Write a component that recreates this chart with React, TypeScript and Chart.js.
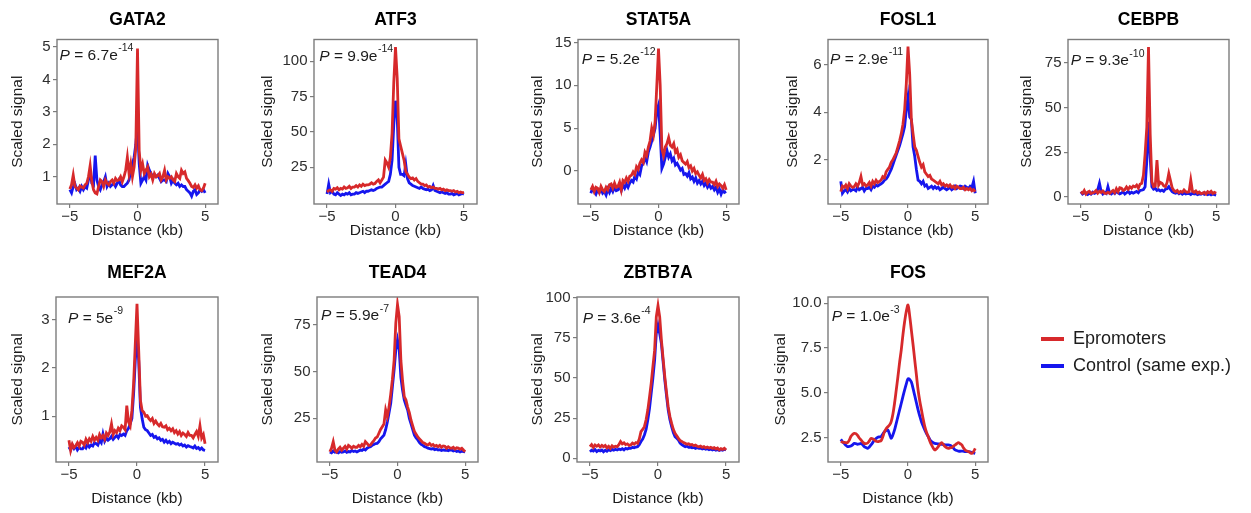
import React, { useEffect, useRef } from 'react';
import { Chart, registerables } from 'chart.js';

Chart.register(...registerables);

// ---------------- data ----------------
const DISTANCE_KB = [
  -5, -4.875, -4.75, -4.625, -4.5, -4.375, -4.25, -4.125,
  -4, -3.875, -3.75, -3.625, -3.5, -3.375, -3.25, -3.125,
  -3, -2.875, -2.75, -2.625, -2.5, -2.375, -2.25, -2.125,
  -2, -1.875, -1.75, -1.625, -1.5, -1.375, -1.25, -1.125,
  -1, -0.875, -0.75, -0.625, -0.5, -0.375, -0.25, -0.125,
  0, 0.125, 0.25, 0.375, 0.5, 0.625, 0.75, 0.875,
  1, 1.125, 1.25, 1.375, 1.5, 1.625, 1.75, 1.875,
  2, 2.125, 2.25, 2.375, 2.5, 2.625, 2.75, 2.875,
  3, 3.125, 3.25, 3.375, 3.5, 3.625, 3.75, 3.875,
  4, 4.125, 4.25, 4.375, 4.5, 4.625, 4.75, 4.875,
  5,
];
const X_TICKS = [-5, 0, 5];
const SERIES_NAMES = ['Epromoters', 'Control (same exp.)'];
const TF_NAMES = ['GATA2', 'ATF3', 'STAT5A', 'FOSL1', 'CEBPB', 'MEF2A', 'TEAD4', 'ZBTB7A', 'FOS'];
const P_MANTISSA = ['6.7', '9.9', '5.2', '2.9', '9.3', '5', '5.9', '3.6', '1.0'];
const P_EXPONENT = ['-14', '-14', '-12', '-11', '-10', '-9', '-7', '-4', '-3'];

const GATA2_EPROMOTERS = [
  0.62, 0.75, 1.05, 0.7, 0.65, 0.6, 0.72, 0.68,
  0.65, 0.75, 0.8, 1.0, 1.34, 0.85, 0.6, 0.5,
  0.47, 0.7, 0.9, 0.85, 0.7, 0.9, 0.8, 0.75,
  0.85, 0.9, 0.8, 0.95, 0.88, 0.9, 1.0, 0.85,
  1.0, 1.2, 1.6, 1.1, 1.4, 1.0, 1.3, 1.9,
  4.95, 1.8, 1.2, 1.4, 1.1, 1.2, 1.3, 1.0,
  1.08, 0.9, 1.1, 1.0, 1.03, 1.1, 0.9, 1.0,
  1.2, 0.9, 1.0, 0.95, 1.0, 0.9, 0.85, 1.1,
  1.0, 0.95, 1.2, 1.1, 1.15, 0.95, 0.88, 0.8,
  0.7, 0.67, 0.75, 0.65, 0.72, 0.6, 0.57, 0.65,
  0.8,
];
const GATA2_CONTROL = [
  0.6, 0.5, 0.7, 0.78, 0.6, 0.65, 0.55, 0.7,
  0.6, 0.7, 0.65, 0.9, 1.15, 0.8, 0.75, 1.65,
  0.9, 0.7, 0.6, 0.75, 0.85, 1.0, 0.7, 0.8,
  0.7, 0.75, 0.8, 0.7, 0.8, 0.9, 0.75, 0.7,
  0.7, 0.75, 0.8, 0.9, 1.2, 1.4, 1.6, 2.0,
  2.6, 1.4, 0.8, 0.9, 1.0, 0.9, 1.35, 1.2,
  1.1, 1.0, 1.05, 1.0, 1.05, 0.95, 0.85, 0.9,
  0.9, 0.85, 1.1, 1.0, 0.8, 0.9, 0.8, 0.75,
  0.8, 0.7, 0.75, 0.7, 0.7, 0.6, 0.55, 0.5,
  0.4, 0.55, 0.6, 0.45, 0.5, 0.6, 0.55, 0.6,
  0.5,
];
const ATF3_EPROMOTERS = [
  7.5, 8.5, 9, 8, 10, 9.5, 10.5, 9,
  10, 9.5, 11, 10, 10.5, 11.5, 10, 11,
  11, 12, 11, 12.5, 11.5, 13, 12, 12.5,
  12.5, 13, 14, 13, 13.5, 15, 16, 14,
  16, 18, 30, 28, 25, 32, 49, 85,
  110, 88, 45, 40, 35, 30, 22, 20,
  18, 17, 17.5, 16, 17, 15, 14, 13,
  13, 12, 12.5, 11, 11.5, 10.5, 11, 10,
  10, 9.5, 10, 9, 9.5, 8.5, 9, 8.5,
  8.5, 8, 8.5, 7.5, 8, 7, 7.5, 7,
  7,
];
const ATF3_CONTROL = [
  6, 13, 7, 8, 6, 5.5, 7, 6,
  5, 6, 5.5, 6.5, 6, 7, 5.5, 6,
  6, 7, 6.5, 7, 7.5, 8, 7, 8,
  8, 8.5, 9, 8.5, 9, 10, 10.5, 11,
  11, 12, 13, 14, 15, 20, 30, 55,
  72, 60, 25, 20, 20, 19, 27, 17,
  14, 13, 12, 11.5, 11, 10.5, 10, 11,
  10, 9.5, 9, 9.5, 8.5, 9, 12, 8.5,
  8, 7.5, 7, 7.5, 7, 6.5, 7, 6,
  6, 6.5, 5.5, 6, 6.5, 5.5, 6, 6.5,
  6,
];
const STAT5A_EPROMOTERS = [
  -2.2, -1.8, -2.4, -1.9, -2.0, -2.5, -1.8, -2.2,
  -2.4, -1.9, -2.2, -1.6, -1.5, -2.0, -1.4, -1.9,
  -1.8, -1.3, -2.2, -1.1, -1.3, -0.8, -1.2, -0.6,
  -0.5, -0.1, -0.4, 0.5, 0.2, 0.9, 1.3, 1.0,
  2.2, 1.8, 2.8, 3.5, 5.0, 4.2, 5.8, 10.0,
  14.3, 10.0, 2.6, 1.8, 2.8, 3.2, 3.9, 3.0,
  2.8, 3.2, 2.2, 2.5, 1.6, 1.9, 1.2, 1.0,
  0.8, 1.1, 0.4, 0.6, 0.0, 0.3, -0.3, -0.1,
  -0.5, -0.8, -0.4, -1.1, -0.9, -1.4, -1.0, -1.3,
  -1.3, -1.6, -1.2, -1.8, -1.5, -1.7, -2.0, -1.6,
  -2.2,
];
const STAT5A_CONTROL = [
  -2.6, -2.0, -2.4, -2.7, -2.2, -2.5, -2.1, -2.6,
  -2.4, -2.8, -2.1, -2.5, -2.0, -2.4, -1.9, -2.3,
  -2.2, -1.8, -2.3, -1.6, -2.0, -1.5, -1.9, -1.4,
  -1.1, -1.3, -0.6, -0.9, -0.1, -0.4, 0.6, 0.9,
  1.6, 1.1, 2.2, 2.8, 3.5, 4.2, 5.0, 7.0,
  7.7, 4.3, 0.3, 0.8, 1.6, 2.4, 1.6, 2.0,
  1.2, 1.5, 0.7, 0.9, 0.5, 0.1, 0.3, -0.4,
  -0.3, -0.6, -0.2, -0.9, -0.7, -1.2, -0.8, -1.4,
  -1.1, -1.5, -1.2, -1.7, -1.4, -1.9, -1.6, -2.0,
  -1.8, -2.2, -1.9, -2.5, -2.1, -2.7, -2.2, -2.5,
  -2.4,
];
const FOSL1_EPROMOTERS = [
  0.67, 0.9, 0.85, 0.95, 0.8, 1.0, 0.9, 0.85,
  0.88, 1.0, 0.9, 1.05, 1.3, 0.95, 1.0, 0.9,
  0.95, 1.05, 0.9, 1.1, 1.0, 1.15, 1.05, 1.1,
  1.15, 1.3, 1.25, 1.5, 1.6, 1.7, 1.9, 2.0,
  2.15, 2.3, 2.55, 2.8, 3.1, 3.5, 4.1, 5.2,
  6.75, 5.6, 3.7, 3.1, 2.55, 2.4, 2.15, 1.9,
  1.7, 1.8, 1.5, 1.4, 1.3, 1.35, 1.2, 1.15,
  1.1, 1.05, 1.0, 1.1, 0.95, 1.0, 0.9, 0.95,
  0.88, 0.95, 0.85, 0.9, 0.8, 0.9, 0.85, 0.8,
  0.8, 0.85, 0.75, 0.8, 0.75, 0.8, 0.7, 0.75,
  0.67,
];
const FOSL1_CONTROL = [
  1.1, 0.6, 0.7, 0.75, 0.65, 0.8, 0.7, 0.75,
  0.75, 0.7, 0.85, 0.75, 0.8, 0.85, 0.7, 0.8,
  0.8, 0.85, 0.75, 0.9, 0.85, 0.95, 0.9, 0.95,
  1.0, 1.05, 1.15, 1.2, 1.3, 1.45, 1.6, 1.8,
  2.0, 2.2, 2.4, 2.6, 2.85, 3.1, 3.4, 4.1,
  4.65, 3.8, 3.7, 2.55, 2.15, 1.6, 1.15, 1.1,
  1.0, 1.1, 0.9, 0.95, 0.8, 0.85, 0.9, 0.8,
  0.88, 0.8, 0.85, 0.75, 0.8, 0.85, 0.8, 0.75,
  0.8, 0.85, 0.75, 0.8, 0.9, 0.8, 0.85, 0.9,
  0.88, 0.8, 0.9, 0.85, 0.8, 0.9, 0.85, 1.1,
  0.6,
];
const CEBPB_EPROMOTERS = [
  2.8, 2.0, 3.5, 1.5, 2.5, 3.0, 1.8, 2.2,
  2.5, 3.5, 2.0, 3.0, 2.4, 3.2, 2.0, 1.8,
  2.5, 1.8, 2.8, 3.5, 2.2, 4.5, 2.8, 5.0,
  4.7, 3.5, 4.0, 5.5, 4.2, 5.6, 4.8, 6.0,
  5.5, 6.5, 4.8, 7.0, 7.5, 12, 24, 39,
  84, 35, 8.4, 5.6, 6.0, 20.5, 6.5, 8.0,
  7.5, 6.0, 5.6, 8.0, 13.0, 9.0, 5.0, 3.5,
  2.8, 3.5, 2.2, 3.0, 2.5, 3.8, 2.8, 2.5,
  2.8, 9.3, 3.0, 2.5, 3.2, 2.0, 2.6, 1.8,
  1.9, 2.5, 1.5, 2.8, 2.2, 3.0, 1.8, 2.4,
  1.9,
];
const CEBPB_CONTROL = [
  2.8, 1.5, 2.2, 1.8, 1.2, 2.0, 1.4, 2.5,
  1.8, 2.2, 4.0, 7.5, 3.0, 1.5, 2.5, 1.8,
  5.6, 2.0, 1.5, 2.5, 1.8, 3.0, 2.2, 1.6,
  2.0, 2.8, 1.5, 2.2, 3.0, 1.8, 2.5, 2.0,
  2.5, 3.0, 2.2, 3.5, 3.7, 4.0, 5.6, 20,
  42, 22, 5.6, 4.2, 4.7, 3.5, 4.0, 3.2,
  3.7, 3.0, 4.2, 4.5, 5.6, 4.0, 2.8, 2.2,
  1.9, 2.5, 1.6, 2.2, 1.4, 2.0, 1.5, 1.8,
  1.9, 1.2, 2.0, 1.5, 1.8, 1.2, 1.6, 1.4,
  1.9, 1.3, 2.0, 1.2, 1.6, 1.0, 1.5, 1.2,
  0.9,
];
const MEF2A_EPROMOTERS = [
  0.5, 0.29, 0.42, 0.35, 0.39, 0.45, 0.38, 0.48,
  0.46, 0.4, 0.52, 0.45, 0.53, 0.48, 0.58, 0.5,
  0.56, 0.5, 0.62, 0.55, 0.6, 0.52, 0.65, 0.6,
  0.67, 0.84, 0.62, 0.7, 0.66, 0.75, 0.7, 0.8,
  0.77, 0.72, 1.22, 0.88, 0.8, 1.12, 1.67, 2.5,
  3.33, 2.36, 1.33, 1.12, 1.08, 1.0, 1.01, 0.95,
  0.91, 0.95, 0.85, 0.9, 0.84, 0.8, 0.85, 0.78,
  0.77, 0.8, 0.72, 0.75, 0.7, 0.74, 0.66, 0.7,
  0.63, 0.68, 0.6, 0.65, 0.62, 0.58, 0.66, 0.6,
  0.6, 0.55, 0.62, 0.68, 0.58, 0.8, 0.55, 0.62,
  0.43,
];
const MEF2A_CONTROL = [
  0.36, 0.3, 0.4, 0.33, 0.38, 0.3, 0.35, 0.32,
  0.32, 0.38, 0.34, 0.42, 0.36, 0.4, 0.38, 0.45,
  0.43, 0.4, 0.5, 0.45, 0.63, 0.48, 0.55, 0.5,
  0.53, 0.58, 0.52, 0.56, 0.6, 0.55, 0.62, 0.6,
  0.63, 0.6, 0.7, 0.75, 0.84, 0.95, 1.46, 2.15,
  2.64, 2.15, 1.19, 0.95, 0.77, 0.72, 0.7, 0.65,
  0.6, 0.62, 0.56, 0.58, 0.53, 0.55, 0.5, 0.52,
  0.46, 0.5, 0.45, 0.48, 0.43, 0.46, 0.44, 0.42,
  0.43, 0.4, 0.42, 0.38, 0.4, 0.36, 0.39, 0.37,
  0.36, 0.34, 0.38, 0.33, 0.35, 0.31, 0.34, 0.3,
  0.29,
];
const TEAD4_EPROMOTERS = [
  7.1, 9, 12.5, 8, 7, 8.5, 9.5, 8,
  9, 10, 8.5, 10.5, 9.8, 9, 10, 9.5,
  9.5, 10.5, 9.8, 11, 10, 12.5, 11.5, 10.5,
  10.7, 12, 13, 14.5, 15, 17, 19, 20.5,
  22, 29.5, 26, 31, 38, 46, 56, 76,
  86, 79.5, 56, 45, 36.6, 34.8, 31, 28,
  24, 21, 18, 16.5, 15, 14, 13, 12,
  11.6, 11, 10.7, 11.5, 10.5, 11, 10, 10.5,
  9.8, 10.5, 9.5, 10.2, 10, 9, 9.8, 9.2,
  9, 9.5, 8.5, 9.2, 9, 8.5, 9, 8,
  7.1,
];
const TEAD4_CONTROL = [
  7, 6.5, 7.5, 6.8, 7, 6.5, 7.2, 6.8,
  7, 7.5, 6.8, 7.2, 7, 7.8, 7.2, 7.5,
  7, 7.5, 8, 7.8, 8.5, 8, 9, 9.5,
  9.8, 10.5, 11, 11.5, 11.6, 12.5, 14, 15,
  16, 19, 23, 28, 33, 42, 51, 61.6,
  67, 61.6, 47, 40, 34.8, 32, 29.5, 25,
  22, 19, 16, 14.5, 13.4, 12, 11, 10.5,
  9.8, 9.5, 9, 8.8, 8.5, 8.8, 8.2, 8.5,
  8, 8.2, 7.8, 8.1, 7.9, 8, 7.6, 8,
  8, 7.5, 7.8, 7.2, 7.5, 7, 7.4, 7.1,
  7,
];
const ZBTB7A_EPROMOTERS = [
  7.2, 8.5, 6.8, 8.3, 7.5, 8.3, 7, 8,
  7.2, 8, 6.5, 7.5, 6.2, 7.8, 7, 7.5,
  7.2, 8.5, 10.4, 9, 9.7, 8.5, 9, 8,
  8.3, 9.5, 8.8, 9.8, 9.3, 12, 16.6, 18,
  19.7, 24, 30, 38, 46.6, 57, 67, 88,
  95, 88, 73.5, 62, 50.7, 41, 32, 26,
  21.7, 18, 15.5, 14, 12.4, 11, 10.5, 9.8,
  9.3, 8.8, 9, 8.3, 8.6, 7.8, 8.2, 7.5,
  7.2, 7.6, 6.8, 7.3, 6.5, 7, 6.4, 6.8,
  6.2, 6.6, 5.8, 6.4, 5.2, 6, 5.5, 6.2,
  5.2,
];
const ZBTB7A_CONTROL = [
  4.1, 5, 4.5, 5.5, 4.2, 5, 4.6, 5.2,
  4.1, 5, 4.4, 5.3, 4.8, 5.5, 5, 5.6,
  5.2, 5.8, 5.4, 6, 5.2, 6.2, 5.8, 6.3,
  6.2, 6.8, 6.5, 7, 7.2, 8.5, 10.4, 12,
  14.5, 18, 23.8, 31, 40.4, 50, 61, 77.6,
  82.8, 77.6, 71.4, 60, 48.6, 39, 30, 24,
  19.7, 16, 13.5, 12.5, 11.4, 9.5, 8.5, 7.8,
  7.2, 7.6, 6.8, 7, 6.5, 6.8, 6.2, 6.6,
  6.2, 6.4, 5.8, 6.2, 5.6, 6, 5.4, 5.8,
  5.2, 5.6, 5, 5.5, 4.9, 5.4, 5, 5.6,
  5.2,
];
const FOS_EPROMOTERS = [
  2.28, 2.25, 2.23, 2.22, 2.22, 2.35, 2.56, 2.68,
  2.74, 2.72, 2.62, 2.48, 2.37, 2.26, 2.18, 2.17,
  2.2, 2.32, 2.46, 2.44, 2.37, 2.3, 2.28, 2.3,
  2.33, 2.55, 2.83, 3.0, 3.11, 3.2, 3.39, 3.8,
  4.42, 5.15, 5.9, 6.7, 7.4, 8.25, 8.98, 9.55,
  9.9, 9.3, 8.5, 7.7, 6.84, 6.0, 5.16, 4.55,
  4.05, 3.55, 3.11, 2.8, 2.56, 2.3, 2.09, 1.92,
  1.81, 1.88, 2.0, 2.13, 2.22, 2.12, 2.0, 1.93,
  1.9, 1.93, 1.95, 2.02, 2.09, 2.16, 2.22, 2.16,
  2.09, 1.93, 1.81, 1.76, 1.72, 1.66, 1.62, 1.72,
  1.9,
];
const FOS_CONTROL = [
  2.4, 2.28, 2.18, 2.08, 2.0, 2.01, 2.03, 2.1,
  2.18, 2.16, 2.13, 2.15, 2.18, 2.1, 2.0, 1.95,
  1.9, 1.98, 2.09, 2.22, 2.37, 2.45, 2.52, 2.54,
  2.56, 2.7, 2.83, 2.9, 2.93, 2.7, 2.46, 2.65,
  2.93, 3.3, 3.67, 4.05, 4.42, 4.8, 5.16, 5.5,
  5.78, 5.75, 5.6, 5.25, 4.85, 4.45, 4.05, 3.7,
  3.39, 3.15, 2.93, 2.72, 2.56, 2.4, 2.28, 2.22,
  2.18, 2.16, 2.15, 2.14, 2.13, 2.11, 2.1, 2.09,
  2.09, 2.07, 2.02, 1.92, 1.81, 1.78, 1.75, 1.74,
  1.75, 1.74, 1.72, 1.72, 1.72, 1.7, 1.68, 1.65,
  1.62,
];

const Y_TICKS_GATA2 = [1, 2, 3, 4, 5];
const Y_TICKS_ATF3 = [25, 50, 75, 100];
const Y_TICKS_STAT5A = [0, 5, 10, 15];
const Y_TICKS_FOSL1 = [2, 4, 6];
const Y_TICKS_CEBPB = [0, 25, 50, 75];
const Y_TICKS_MEF2A = [1, 2, 3];
const Y_TICKS_TEAD4 = [25, 50, 75];
const Y_TICKS_ZBTB7A = [0, 25, 50, 75, 100];
const Y_TICKS_FOS = [2.5, 5, 7.5, 10];
const Y_TICK_DECIMALS = [0, 0, 0, 0, 0, 0, 0, 0, 1];
const Y_MIN = [0.16, -1, -3.85, 0.15, -4.1, 0.05, 1.6, -2.3, 1.14];
const Y_MAX = [5.23, 115.3, 15.35, 7.05, 88.2, 3.47, 90, 100.4, 10.35];
const X_MIN = -5.95;
const X_MAX = 5.95;

const EPROMOTER_SERIES = [
  GATA2_EPROMOTERS, ATF3_EPROMOTERS, STAT5A_EPROMOTERS, FOSL1_EPROMOTERS, CEBPB_EPROMOTERS,
  MEF2A_EPROMOTERS, TEAD4_EPROMOTERS, ZBTB7A_EPROMOTERS, FOS_EPROMOTERS,
];
const CONTROL_SERIES = [
  GATA2_CONTROL, ATF3_CONTROL, STAT5A_CONTROL, FOSL1_CONTROL, CEBPB_CONTROL,
  MEF2A_CONTROL, TEAD4_CONTROL, ZBTB7A_CONTROL, FOS_CONTROL,
];
const Y_TICKS = [
  Y_TICKS_GATA2, Y_TICKS_ATF3, Y_TICKS_STAT5A, Y_TICKS_FOSL1, Y_TICKS_CEBPB,
  Y_TICKS_MEF2A, Y_TICKS_TEAD4, Y_TICKS_ZBTB7A, Y_TICKS_FOS,
];

// ---------------- style / layout ----------------
const FONT = '"Liberation Sans", Arial, Helvetica, sans-serif';
const RED = '#D7292B';
const BLUE = '#1616EE';
const FRAME_COLOR = '#7c7c7c';
const TICK_COLOR = '#2e2e2e';
const TEXT_COLOR = '#1c1c1c';
const TITLE_SIZE = 17.5;
const AXIS_TITLE_SIZE = 15.5;
const TICK_SIZE = 15;
const P_SIZE = 15.5;
const LINE_WIDTH = 2.8;

const ROWS = [
  { titleY: 19.7, boxTop: 39.5, boxBottom: 204, xTitleY: 230.3 },
  { titleY: 273.6, boxTop: 297, boxBottom: 462, xTitleY: 498.3 },
];
const PANELS = [
  { row: 0, boxLeft: 57, boxRight: 218, yTitleX: 17.3, pdx: 2.6, pdy: 16, tension: 0 },
  { row: 0, boxLeft: 314, boxRight: 477, yTitleX: 267.3, pdx: 5.3, pdy: 17, tension: 0 },
  { row: 0, boxLeft: 578, boxRight: 739, yTitleX: 537.3, pdx: 3.7, pdy: 20, tension: 0 },
  { row: 0, boxLeft: 828, boxRight: 988, yTitleX: 792.3, pdx: 2, pdy: 20, tension: 0 },
  { row: 0, boxLeft: 1068, boxRight: 1229, yTitleX: 1026.7, pdx: 2.7, pdy: 21.5, tension: 0 },
  { row: 1, boxLeft: 56, boxRight: 218, yTitleX: 17.3, pdx: 12, pdy: 21.6, tension: 0 },
  { row: 1, boxLeft: 317, boxRight: 478, yTitleX: 268, pdx: 4, pdy: 19, tension: 0 },
  { row: 1, boxLeft: 577, boxRight: 739, yTitleX: 537.3, pdx: 5.7, pdy: 21.6, tension: 0 },
  { row: 1, boxLeft: 828, boxRight: 988, yTitleX: 780.7, pdx: 3.7, pdy: 19.7, tension: 0.35 },
];
const LEGEND_BOX = { left: 1032, top: 321, width: 219, height: 80 };

Chart.defaults.font.family = FONT;

const formatTick = (v: number, decimals: number) => {
  const s = Math.abs(v).toFixed(decimals);
  return v < 0 ? '\u2212' + s : s;
};

const framePlugin = {
  id: 'panelFrame',
  afterDatasetsDraw(chart: any) {
    const { ctx, chartArea: a } = chart;
    ctx.save();
    ctx.strokeStyle = FRAME_COLOR;
    ctx.lineWidth = 1.4;
    ctx.strokeRect(a.left, a.top, a.right - a.left, a.bottom - a.top);
    ctx.restore();
  },
};

const pValuePlugin = {
  id: 'pValue',
  afterDatasetsDraw(chart: any, _args: any, opts: any) {
    const { ctx, chartArea: a } = chart;
    const x0 = a.left + opts.dx;
    const y0 = a.top + opts.dy;
    ctx.save();
    ctx.fillStyle = TEXT_COLOR;
    ctx.textBaseline = 'middle';
    ctx.textAlign = 'left';
    ctx.font = `italic ${P_SIZE}px ${FONT}`;
    ctx.fillText('P', x0, y0);
    let x = x0 + ctx.measureText('P').width;
    ctx.font = `${P_SIZE}px ${FONT}`;
    const main = ` = ${opts.mantissa}e`;
    ctx.fillText(main, x, y0);
    x += ctx.measureText(main).width;
    ctx.font = `10.5px ${FONT}`;
    ctx.fillText(opts.exponent, x + 0.5, y0 - 7);
    ctx.restore();
  },
};

function Panel({ index }: { index: number }) {
  const ref = useRef<HTMLCanvasElement | null>(null);
  const p = PANELS[index];
  const r = ROWS[p.row];
  const titleLH = TITLE_SIZE * 1.2;
  const axisLH = AXIS_TITLE_SIZE * 1.2;
  const left = Math.floor(p.yTitleX - axisLH / 2);
  const top = Math.floor(r.titleY - titleLH / 2);
  const leftW = p.boxLeft - left;
  const boxW = p.boxRight - p.boxLeft;
  const width = Math.ceil(2 * leftW + boxW);
  const bottom = Math.ceil(r.xTitleY + axisLH / 2);
  const height = bottom - top;

  useEffect(() => {
    if (!ref.current) return;
    const titlePadTop = r.titleY - titleLH / 2 - top;
    const titlePadBottom = r.boxTop - top - titleLH - titlePadTop;
    const decimals = Y_TICK_DECIMALS[index];
    const chart = new Chart(ref.current, {
      type: 'line',
      data: {
        datasets: [
          {
            label: SERIES_NAMES[0],
            data: DISTANCE_KB.map((x, i) => ({ x, y: EPROMOTER_SERIES[index][i] })),
            borderColor: RED,
            backgroundColor: RED,
            borderWidth: LINE_WIDTH,
            pointRadius: 0,
            tension: p.tension,
            xAxisID: 'x',
            yAxisID: 'y',
          },
          {
            label: SERIES_NAMES[1],
            data: DISTANCE_KB.map((x, i) => ({ x, y: CONTROL_SERIES[index][i] })),
            borderColor: BLUE,
            backgroundColor: BLUE,
            borderWidth: LINE_WIDTH,
            pointRadius: 0,
            tension: p.tension,
            xAxisID: 'x',
            yAxisID: 'y',
          },
        ],
      },
      options: {
        responsive: false,
        animation: false,
        devicePixelRatio: 1,
        events: [],
        layout: { padding: 0 },
        scales: {
          x: {
            type: 'linear',
            position: 'bottom',
            min: X_MIN,
            max: X_MAX,
            afterBuildTicks: (s: any) => { s.ticks = X_TICKS.map((value) => ({ value })); },
            afterFit: (s: any) => { s.height = bottom - r.boxBottom; },
            ticks: {
              font: { family: FONT, size: TICK_SIZE },
              color: TICK_COLOR,
              padding: 0,
              maxRotation: 0,
              autoSkip: false,
              callback: (v: any) => formatTick(Number(v), 0),
            },
            grid: { display: true, drawOnChartArea: false, drawTicks: true, tickLength: 4, color: FRAME_COLOR, lineWidth: 1.2 },
            border: { display: false },
            title: {
              display: true,
              text: 'Distance (kb)',
              font: { family: FONT, size: AXIS_TITLE_SIZE },
              color: TEXT_COLOR,
              padding: { top: 0, bottom: bottom - r.xTitleY - axisLH / 2 },
            },
          },
          y: {
            type: 'linear',
            position: 'left',
            min: Y_MIN[index],
            max: Y_MAX[index],
            afterBuildTicks: (s: any) => { s.ticks = Y_TICKS[index].map((value) => ({ value })); },
            afterFit: (s: any) => { s.width = leftW; },
            ticks: {
              font: { family: FONT, size: TICK_SIZE },
              color: TICK_COLOR,
              padding: 2.5,
              autoSkip: false,
              callback: (v: any) => formatTick(Number(v), decimals),
            },
            grid: { display: true, drawOnChartArea: false, drawTicks: true, tickLength: 4, color: FRAME_COLOR, lineWidth: 1.2 },
            border: { display: false },
            title: {
              display: true,
              text: 'Scaled signal',
              font: { family: FONT, size: AXIS_TITLE_SIZE },
              color: TEXT_COLOR,
              padding: { top: p.yTitleX - left - axisLH / 2, bottom: 0 },
            },
          },
          yR: {
            type: 'linear',
            axis: 'y',
            position: 'right',
            display: true,
            afterFit: (s: any) => { s.width = width - (p.boxRight - left); },
            ticks: { display: false },
            grid: { display: false },
            border: { display: false },
          },
        },
        plugins: {
          legend: { display: false },
          tooltip: { enabled: false },
          title: {
            display: true,
            text: TF_NAMES[index],
            color: '#000',
            font: { family: FONT, size: TITLE_SIZE, weight: 'bold' },
            padding: { top: titlePadTop, bottom: titlePadBottom },
          },
          pValue: { dx: p.pdx, dy: p.pdy, mantissa: P_MANTISSA[index], exponent: P_EXPONENT[index] },
        } as any,
      } as any,
      plugins: [framePlugin, pValuePlugin],
    });
    return () => chart.destroy();
  }, [index]);

  return (
    <canvas
      ref={ref}
      width={width}
      height={height}
      style={{ position: 'absolute', left, top, width, height }}
    />
  );
}

function LegendChart() {
  const ref = useRef<HTMLCanvasElement | null>(null);
  useEffect(() => {
    if (!ref.current) return;
    const colors = [RED, BLUE];
    const chart = new Chart(ref.current, {
      type: 'line',
      data: {
        datasets: SERIES_NAMES.map((label, i) => ({
          label,
          data: [],
          borderColor: colors[i],
          backgroundColor: colors[i],
          borderWidth: 0,
        })),
      },
      options: {
        responsive: false,
        animation: false,
        devicePixelRatio: 1,
        events: [],
        layout: { padding: 0 },
        scales: { x: { display: false }, y: { display: false } },
        plugins: {
          tooltip: { enabled: false },
          legend: {
            display: true,
            position: 'left',
            align: 'start',
            maxWidth: LEGEND_BOX.width,
            labels: {
              boxWidth: 23,
              boxHeight: 4,
              padding: 9,
              color: TEXT_COLOR,
              font: { family: FONT, size: 18 },
            },
          },
        },
      } as any,
    });
    return () => chart.destroy();
  }, []);
  return (
    <canvas
      ref={ref}
      width={LEGEND_BOX.width}
      height={LEGEND_BOX.height}
      style={{ position: 'absolute', left: LEGEND_BOX.left, top: LEGEND_BOX.top, width: LEGEND_BOX.width, height: LEGEND_BOX.height }}
    />
  );
}

export default function App() {
  return (
    <div
      style={{
        position: 'absolute',
        left: 0,
        top: 0,
        width: 1251,
        height: 513,
        overflow: 'hidden',
        background: '#ffffff',
      }}
    >
      {TF_NAMES.map((name, i) => (
        <Panel key={name} index={i} />
      ))}
      <LegendChart />
    </div>
  );
}
